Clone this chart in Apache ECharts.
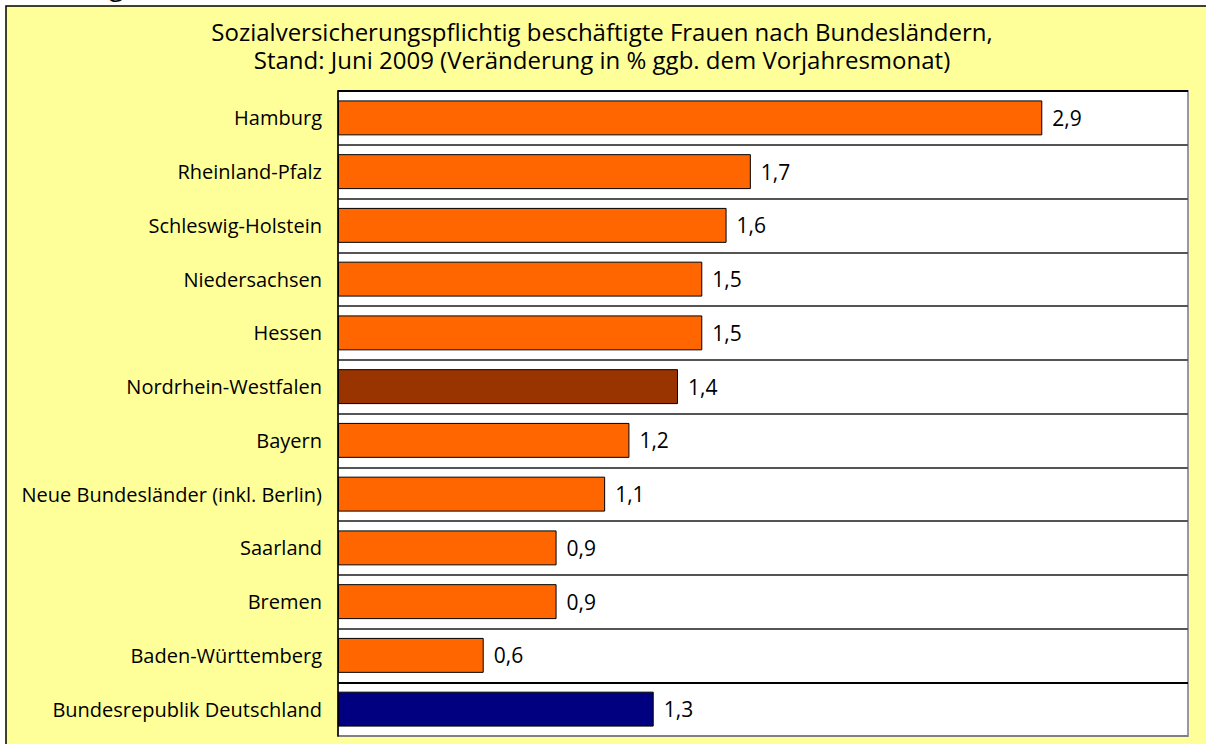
<!DOCTYPE html>
<html>
<head>
<meta charset="utf-8">
<script src="https://cdn.jsdelivr.net/npm/echarts@6/dist/echarts.min.js"></script>
<style>
  html, body { margin: 0; padding: 0; background: #fff; }
  #chart { width: 1206px; height: 744px; }
</style>
</head>
<body>
<div id="chart"></div>
<script>
// Veränderung in % ggb. Vorjahresmonat, Juni 2009
const laender = [
    'Hamburg', 'Rheinland-Pfalz', 'Schleswig-Holstein', 'Niedersachsen', 'Hessen',
    'Nordrhein-Westfalen', 'Bayern', 'Neue Bundesländer (inkl. Berlin)', 'Saarland',
    'Bremen', 'Baden-Württemberg', 'Bundesrepublik Deutschland'
];
const veraenderung = [2.9, 1.7, 1.6, 1.5, 1.5, 1.4, 1.2, 1.1, 0.9, 0.9, 0.6, 1.3];

const FONT = 'Open Sans';

function barColor(name) {
    if (name === 'Nordrhein-Westfalen') return '#993300';
    if (name === 'Bundesrepublik Deutschland') return '#000080';
    return '#FF6600';
}

// split lines at category boundaries, the one above the Bund total is black
const splitColors = laender.map(() => '#555555').concat(['#808080']);
splitColors[0] = '#000000';
splitColors[laender.length - 1] = '#000000';

const chart = echarts.init(document.getElementById('chart'), null, { renderer: 'svg' });

chart.setOption({
    animation: false,
    backgroundColor: '#ffffff',
    textStyle: { fontFamily: FONT },
    graphic: [
        {
            type: 'rect',
            z: -10,
            shape: { x: 6, y: 6, width: 1220, height: 760 },
            style: { fill: '#FFFF99', stroke: '#000', lineWidth: 1.5 }
        },
        {
            type: 'text',
            left: 0,
            top: -27,
            style: { text: 'Abbildung 18', fontSize: 26, fontFamily: FONT, fill: '#000' }
        }
    ],
    title: {
        text: 'Sozialversicherungspflichtig beschäftigte Frauen nach Bundesländern,\nStand: Juni 2009 (Veränderung in % ggb. dem Vorjahresmonat)',
        left: 597,
        textAlign: 'center',
        top: 12,
        textStyle: {
            fontFamily: FONT,
            fontSize: 24,
            fontWeight: 500,
            lineHeight: 28,
            color: '#000'
        }
    },
    grid: {
        left: 338,
        right: 18,
        top: 91,
        bottom: 8,
        show: true,
        backgroundColor: '#ffffff',
        borderColor: '#999999',
        borderWidth: 2
    },
    xAxis: {
        type: 'value',
        min: 0,
        max: 3.5,
        show: false
    },
    yAxis: {
        type: 'category',
        data: laender,
        inverse: true,
        axisLine: { show: true, lineStyle: { color: '#000', width: 1.5 } },
        axisTick: { show: false },
        axisLabel: { fontFamily: FONT, fontSize: 20, color: '#000', margin: 16 },
        splitLine: {
            show: true,
            lineStyle: { color: splitColors, width: 2 }
        }
    },
    series: [{
        type: 'bar',
        data: veraenderung.map((v, i) => ({
            value: v,
            itemStyle: { color: barColor(laender[i]) }
        })),
        barCategoryGap: '35%',
        itemStyle: { borderColor: '#000', borderWidth: 1 },
        label: {
            show: true,
            position: 'right',
            distance: 10,
            fontFamily: FONT,
            fontSize: 21,
            fontWeight: 500,
            color: '#000',
            formatter: p => p.value.toFixed(1).replace('.', ',')
        }
    }]
});
</script>
</body>
</html>
